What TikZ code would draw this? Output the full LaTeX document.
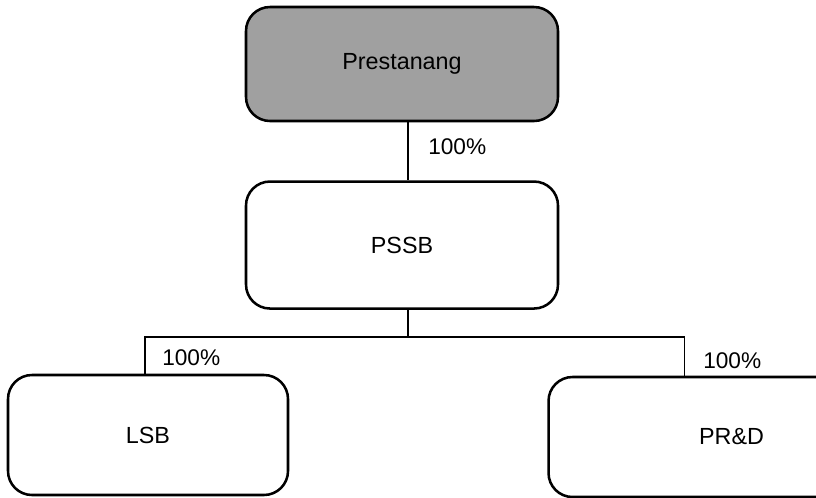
\documentclass[tikz,border=0pt]{standalone}
\usepackage{fontspec}
\setmainfont{Liberation Sans}
\usepackage{xcolor}
\definecolor{parentBack}{HTML}{A0A0A0}
\usetikzlibrary{positioning, calc}
\tikzset{
    entity/.style={rectangle, rounded corners=18pt, draw, line width=1.9pt,
                   inner sep=0pt, font=\fontsize{17.5}{20}\selectfont},
    eparent/.style={entity, fill=parentBack, minimum width=234pt, minimum height=85.5pt},
    ecompany/.style={entity, fill=white, minimum width=234pt, minimum height=95.25pt},
    esubsid/.style={entity, fill=white, minimum width=210pt, minimum height=90pt},
    ewide/.style={entity, fill=white, minimum width=274.5pt, minimum height=90pt},
    link/.style={-, line width=1.3pt},
    share/.style={inner sep=0pt, anchor=west, font=\fontsize{17}{20}\selectfont},
}

\begin{document}
\begin{tikzpicture}[x=0.75pt, y=-0.75pt]
    \clip (0,0) rectangle (816,497);
    \node[eparent] (pre) at (402,64) {\raisebox{-3pt}{Prestanang}};
    \node[ecompany, below=43.5pt of pre] (pssb) {PSSB};
    \node[esubsid] (lsb) at (148,435) {LSB};
    \node[ewide, right=193.5pt of lsb, yshift=-1.5pt] (prd) {PR\&D};
    \coordinate[below=20.25pt of pssb.south, xshift=4.5pt] (fork);
    \draw[link] ([xshift=4.5pt]pre.south) -- ([xshift=4.5pt]pssb.north);
    \draw[link] ([xshift=4.5pt]pssb.south) -- (fork);
    \draw[link] ([xshift=-2.25pt]lsb.north) |- (fork) -| ([xshift=-35.25pt]prd.north);
    \node[share] (s1) at (428,147) {100\%};
    \node[share] (s2) at (162,358) {100\%};
    \node[share] (s3) at (703,361) {100\%};
\end{tikzpicture}
\end{document}
